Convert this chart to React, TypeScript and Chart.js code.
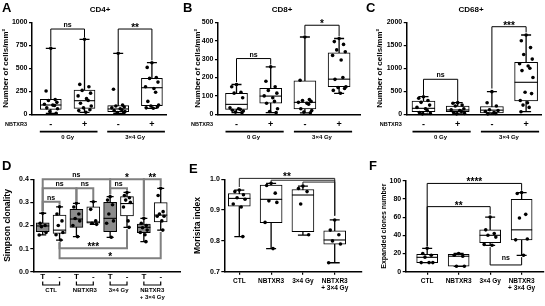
import React, { useEffect, useRef } from 'react';
import { Chart, registerables } from 'chart.js';
Chart.register(...registerables);

const FONT = '"Liberation Sans", Arial, Helvetica, sans-serif';

// ---------- shared labels ----------
const treatLabels = ['-', '+', '-', '+'];
const doseLabels = ['0 Gy', '3×4 Gy'];
const pairLabels = ['T', '-', 'T', '-', 'T', '-', 'T', '-'];
const conditionLabels = [['CTL'], ['NBTXR3'], ['3×4 Gy'], ['NBTXR3', '+ 3×4 Gy']];
const JITTER = [0, -0.7, 0.65, -0.35, 0.9, -0.95, 0.3, 0.55, -0.6, 1, -0.15, 0.8, -0.85, 0.2, -0.45, 0.45, -0.75];

// ---------- A: CD4+ ----------
const cd4Ticks = [0, 250, 500, 750, 1000];
const cd4Min = [11, 22, 11, 65];
const cd4Q1 = [54, 65, 29, 94];
const cd4Median = [101, 148, 58, 289];
const cd4Q3 = [163, 264, 94, 391];
const cd4Max = [717, 815, 663, 561];
const cd4Points = [
  [717, 253, 160, 150, 130, 110, 100, 95, 70, 60, 30, 11],
  [815, 325, 300, 260, 230, 200, 170, 150, 120, 90, 70, 50, 40, 22],
  [663, 272, 100, 90, 80, 70, 60, 50, 40, 30, 20, 11],
  [561, 510, 400, 390, 350, 300, 280, 240, 140, 100, 90, 80, 70, 65],
];
const cd4Sig = [
  { a: 0, b: 1, y: 927, ya: 740, yb: 835, text: 'ns' },
  { a: 2, b: 3, y: 927, ya: 685, yb: 585, text: '**' },
];

// ---------- B: CD8+ ----------
const cd8Ticks = [0, 100, 200, 300, 400, 500];
const cd8Min = [9, 9, 8, 114];
const cd8Q1 = [27, 60, 29, 150];
const cd8Median = [54, 99, 65, 191];
const cd8Q3 = [114, 141, 182, 334];
const cd8Max = [162, 258, 420, 412];
const cd8Points = [
  [162, 150, 120, 115, 90, 35, 30, 27, 22, 18, 12, 9],
  [258, 180, 150, 130, 115, 100, 90, 70, 60, 30, 15, 9],
  [420, 185, 80, 75, 70, 65, 60, 55, 30, 20, 12, 8],
  [412, 395, 380, 350, 340, 320, 295, 200, 190, 150, 145, 140, 130, 114],
];
const cd8Sig = [
  { a: 0, b: 1, y: 303, ya: 175, yb: 270, text: 'ns' },
  { a: 2, b: 3, y: 484, ya: 432, yb: 424, text: '*' },
];

// ---------- C: CD68+ ----------
const cd68Ticks = [0, 500, 1000, 1500, 2000];
const cd68Min = [10, 10, 10, 57];
const cd68Q1 = [57, 57, 30, 290];
const cd68Median = [130, 94, 90, 696];
const cd68Q3 = [290, 180, 170, 1130];
const cd68Max = [383, 253, 492, 1724];
const cd68Points = [
  [383, 350, 300, 260, 200, 150, 120, 80, 40, 20, 10],
  [253, 240, 200, 180, 120, 100, 80, 60, 40, 20, 10],
  [492, 250, 180, 100, 80, 60, 40, 20, 10],
  [1724, 1600, 1450, 1300, 1200, 1100, 1050, 1000, 950, 800, 480, 450, 300, 250, 200, 150, 57],
];
const cd68Sig = [
  { a: 0, b: 1, y: 761, ya: 420, yb: 290, text: 'ns' },
  { a: 2, b: 3, y: 1904, ya: 560, yb: 1780, text: '***' },
];

// ---------- D: Simpson clonality ----------
const simpsonTicks = [0, 0.1, 0.2, 0.3, 0.4];
const simpsonMin = [0.159, 0.137, 0.152, 0.205, 0.149, 0.192, 0.13, 0.18];
const simpsonQ1 = [0.173, 0.166, 0.192, 0.21, 0.173, 0.241, 0.169, 0.216];
const simpsonMedian = [0.198, 0.18, 0.228, 0.215, 0.231, 0.295, 0.192, 0.245];
const simpsonQ3 = [0.212, 0.245, 0.27, 0.281, 0.3, 0.325, 0.206, 0.299];
const simpsonMax = [0.253, 0.281, 0.296, 0.303, 0.325, 0.343, 0.231, 0.361];
const simpsonPoints = [
  [0.253, 0.21, 0.2, 0.195, 0.17, 0.159],
  [0.281, 0.25, 0.22, 0.2, 0.17, 0.16, 0.137],
  [0.296, 0.28, 0.25, 0.23, 0.22, 0.2, 0.152],
  [0.303, 0.27, 0.22, 0.21, 0.205],
  [0.325, 0.31, 0.29, 0.25, 0.22, 0.21, 0.149],
  [0.343, 0.33, 0.32, 0.31, 0.3, 0.28, 0.22, 0.192],
  [0.231, 0.21, 0.2, 0.19, 0.18, 0.17, 0.16, 0.13],
  [0.361, 0.33, 0.26, 0.25, 0.24, 0.24, 0.22, 0.18],
];
const simpsonSig = [
  { a: 0, b: 4, y: 0.4, ya: 0.262, yb: 0.335, text: 'ns' },
  { a: 4, b: 6, y: 0.4, ya: 0.335, yb: 0.24, text: '*' },
  { a: 6, b: 7, y: 0.4, ya: 0.24, yb: 0.37, text: '**' },
  { a: 0, b: 2, y: 0.361, ya: 0.262, yb: 0.302, text: 'ns' },
  { a: 2, b: 3, y: 0.361, ya: 0.302, yb: 0.31, text: 'ns' },
  { a: 4, b: 5, y: 0.361, ya: 0.335, yb: 0.35, text: 'ns' },
  { a: 0, b: 1, y: 0.303, ya: 0.262, yb: 0.29, text: 'ns' },
  { a: 1, b: 5, y: 0.101, ya: 0.128, yb: 0.184, text: '***' },
  { a: 1, b: 7, y: 0.058, ya: 0.128, yb: 0.172, text: '*' },
];

// ---------- E: Morisita index ----------
const morisitaTicks = [0.7, 0.8, 0.9, 1.0];
const morisitaMin = [0.814, 0.775, 0.819, 0.729];
const morisitaQ1 = [0.913, 0.859, 0.83, 0.789];
const morisitaMedian = [0.938, 0.935, 0.949, 0.803];
const morisitaQ3 = [0.954, 0.981, 0.967, 0.833];
const morisitaMax = [0.965, 0.987, 0.978, 0.868];
const morisitaPoints = [
  [0.965, 0.96, 0.95, 0.94, 0.935, 0.92, 0.91, 0.814],
  [0.987, 0.98, 0.955, 0.93, 0.925, 0.86, 0.775],
  [0.978, 0.97, 0.96, 0.92, 0.82],
  [0.868, 0.835, 0.82, 0.8, 0.79, 0.729],
];
const morisitaSig = [
  { a: 0, b: 3, y: 1.003, ya: 0.975, yb: 0.882, text: '**' },
  { a: 1, b: 3, y: 0.997, ya: 0.99, yb: 0.882, text: '' },
  { a: 2, b: 3, y: 0.991, ya: 0.982, yb: 0.882, text: '' },
];

// ---------- F: Expanded clones number ----------
const clonesTicks = [0, 20, 40, 60, 80, 100];
const clonesMin = [10, 6, 29, 18];
const clonesQ1 = [10, 6, 32, 35];
const clonesMedian = [15.8, 17, 40, 46];
const clonesQ3 = [19, 19, 46, 79.5];
const clonesMax = [25.7, 20, 60, 87];
const clonesPoints = [
  [25.7, 20, 18, 16, 10, 10, 10],
  [20, 18, 17, 6, 6],
  [60, 46, 42, 40, 38, 30, 29],
  [87, 86, 63, 59, 36, 35, 18],
];
const clonesSig = [
  { a: 0, b: 3, y: 97, ya: 28, yb: 89, text: '****' },
  { a: 0, b: 2, y: 71.5, ya: 28, yb: 63, text: '**' },
  { a: 2, b: 3, y: 7.4, ya: 27, yb: 16, text: 'ns' },
];

type Sig = { a: number; b: number; y: number; ya: number; yb: number; text: string };
type Panel = any;

const WHITE4 = ['#fff', '#fff', '#fff', '#fff'];
const PAIRFILL = ['#8c8c8c', '#fff', '#8c8c8c', '#fff', '#8c8c8c', '#fff', '#8c8c8c', '#fff'];
const fmt0 = (v: number) => String(v);
const fmt1 = (v: number) => v.toFixed(1);

const panels: Panel[] = [
  {
    left: 0, top: 0, w: 182, h: 150, area: { l: 32, r: 166, t: 22.3, b: 114.3 }, xMin: -0.558, xMax: 3.418,
    yMin: 0, yMax: 1000, yTicks: cd4Ticks, yFmt: fmt0, xLabels: treatLabels, xFont: 9, xPad: 5.5, xH: 20, xTicks: false,
    boxW: 21, capW: 10, jitter: 0.2, box: { min: cd4Min, q1: cd4Q1, med: cd4Median, q3: cd4Q3, max: cd4Max },
    points: cd4Points, fills: WHITE4, sig: cd4Sig, sigColor: '#000', sigW: 1,
    letter: 'A', letterX: 2, letterY: 2, title: 'CD4+', titleX: 100, yTitle: 'Number of cells/mm²', yTitleX: 5.5, yTitleSize: 8,
    dose: true,
  },
  {
    left: 182, top: 0, w: 182, h: 150, area: { l: 36, r: 178, t: 22.3, b: 114.3 }, xMin: -0.541, xMax: 3.611,
    yMin: 0, yMax: 500, yTicks: cd8Ticks, yFmt: fmt0, xLabels: treatLabels, xFont: 9, xPad: 5.5, xH: 20, xTicks: false,
    boxW: 22, capW: 10, jitter: 0.2, box: { min: cd8Min, q1: cd8Q1, med: cd8Median, q3: cd8Q3, max: cd8Max },
    points: cd8Points, fills: WHITE4, sig: cd8Sig, sigColor: '#000', sigW: 1,
    letter: 'B', letterX: 1, letterY: 2, title: 'CD8+', titleX: 100, yTitle: 'Number of cells/mm²', yTitleX: 15.5, yTitleSize: 8,
    dose: true,
  },
  {
    left: 364, top: 0, w: 181, h: 150, area: { l: 42.7, r: 177.7, t: 22.3, b: 114.3 }, xMin: -0.491, xMax: 3.456,
    yMin: 0, yMax: 2000, yTicks: cd68Ticks, yFmt: fmt0, xLabels: treatLabels, xFont: 9, xPad: 5.5, xH: 20, xTicks: false,
    boxW: 23, capW: 10, jitter: 0.2, box: { min: cd68Min, q1: cd68Q1, med: cd68Median, q3: cd68Q3, max: cd68Max },
    points: cd68Points, fills: WHITE4, sig: cd68Sig, sigColor: '#000', sigW: 1,
    letter: 'C', letterX: 2, letterY: 2, title: 'CD68+', titleX: 107, yTitle: 'Number of cells/mm²', yTitleX: 15.5, yTitleSize: 8,
    dose: true,
  },
  {
    left: 0, top: 150, w: 182, h: 156, area: { l: 33.3, r: 180, t: 29.3, b: 121.7 }, xMin: -0.558, xMax: 8.144,
    yMin: 0, yMax: 0.4, yTicks: simpsonTicks, yFmt: fmt1, xLabels: pairLabels, xFont: 8, xPad: 0.5, xH: 24, xTicks: false,
    boxW: 13, capW: 7, jitter: 0.22, box: { min: simpsonMin, q1: simpsonQ1, med: simpsonMedian, q3: simpsonQ3, max: simpsonMax },
    points: simpsonPoints, fills: PAIRFILL, sig: simpsonSig, sigColor: '#808080', sigW: 2,
    letter: 'D', letterX: 2, letterY: 10, yTitle: 'Simpson clonality', yTitleX: 7.5, yTitleSize: 8.5,
    pairs: true,
  },
  {
    left: 182, top: 150, w: 182, h: 156, area: { l: 42.3, r: 180, t: 29.3, b: 121.7 }, xMin: -0.472, xMax: 3.858,
    yMin: 0.7, yMax: 1.0, yTicks: morisitaTicks, yFmt: fmt1, xLabels: conditionLabels, xFont: 6.5, xPad: 2.5, xH: 24, xTicks: true,
    boxW: 22, capW: 10, jitter: 0.2, box: { min: morisitaMin, q1: morisitaQ1, med: morisitaMedian, q3: morisitaQ3, max: morisitaMax },
    points: morisitaPoints, fills: WHITE4, sig: morisitaSig, sigColor: '#222', sigW: 1,
    letter: 'E', letterX: 7, letterY: 13, yTitle: 'Morisita index', yTitleX: 15.5, yTitleSize: 8.5,
  },
  {
    left: 364, top: 150, w: 181, h: 156, area: { l: 41.7, r: 180, t: 30.7, b: 121.7 }, xMin: -0.682, xMax: 3.685,
    yMin: 0, yMax: 100, yTicks: clonesTicks, yFmt: fmt0, xLabels: conditionLabels, xFont: 6.5, xPad: 2.5, xH: 24, xTicks: true,
    boxW: 21, capW: 10, jitter: 0.2, box: { min: clonesMin, q1: clonesQ1, med: clonesMedian, q3: clonesQ3, max: clonesMax },
    points: clonesPoints, fills: WHITE4, sig: clonesSig, sigColor: '#000', sigW: 1,
    letter: 'F', letterX: 5, letterY: 10, yTitle: 'Expanded clones number', yTitleX: 20.5, yTitleSize: 7,
  },
];

const bold = (s: number) => `bold ${s}px ${FONT}`;

function extras(p: Panel) {
  return {
    id: 'boxExtras',
    beforeDatasetsDraw(chart: any) {
      const { ctx } = chart;
      const x = chart.scales.x, y = chart.scales.y;
      ctx.save();
      ctx.strokeStyle = '#000';
      ctx.lineWidth = 1.3;
      p.box.min.forEach((mn: number, i: number) => {
        const px = x.getPixelForValue(i);
        const y0 = y.getPixelForValue(mn);
        const y1 = y.getPixelForValue(p.box.max[i]);
        const cw = p.capW / 2;
        ctx.beginPath();
        ctx.moveTo(px, y0); ctx.lineTo(px, y1);
        ctx.moveTo(px - cw, y0); ctx.lineTo(px + cw, y0);
        ctx.moveTo(px - cw, y1); ctx.lineTo(px + cw, y1);
        ctx.stroke();
      });
      ctx.restore();
    },
    afterDatasetDraw(chart: any, args: any) {
      if (args.index !== 1) return;
      const { ctx } = chart;
      const x = chart.scales.x, y = chart.scales.y;
      ctx.save();
      ctx.strokeStyle = '#000';
      ctx.lineWidth = 1.1;
      p.box.med.forEach((m: number, i: number) => {
        const px = x.getPixelForValue(i);
        const py = y.getPixelForValue(m);
        ctx.beginPath();
        ctx.moveTo(px - p.boxW / 2, py); ctx.lineTo(px + p.boxW / 2, py);
        ctx.stroke();
      });
      ctx.restore();
    },
    afterDraw(chart: any) {
      const { ctx, chartArea } = chart;
      const x = chart.scales.x, y = chart.scales.y;
      ctx.save();
      // significance brackets
      ctx.strokeStyle = p.sigColor;
      ctx.lineWidth = p.sigW;
      ctx.fillStyle = '#000';
      p.sig.forEach((s: Sig) => {
        const xa = x.getPixelForValue(s.a), xb = x.getPixelForValue(s.b);
        const yl = y.getPixelForValue(s.y), ya = y.getPixelForValue(s.ya), yb = y.getPixelForValue(s.yb);
        ctx.beginPath();
        ctx.moveTo(xa, ya); ctx.lineTo(xa, yl); ctx.lineTo(xb, yl); ctx.lineTo(xb, yb);
        ctx.stroke();
        if (s.text) {
          const star = s.text.includes('*');
          const inverted = s.ya > s.y;
          ctx.font = star ? bold(10) : bold(7);
          ctx.textAlign = 'center';
          ctx.textBaseline = 'alphabetic';
          ctx.fillText(s.text, (xa + xb) / 2, yl + (star ? 2 : inverted ? -4.5 : -2));
        }
      });
      // panel letter
      ctx.fillStyle = '#000';
      ctx.font = bold(13);
      ctx.textAlign = 'left';
      ctx.textBaseline = 'top';
      ctx.fillText(p.letter, p.letterX, p.letterY);
      // title
      if (p.title) {
        ctx.font = bold(8);
        ctx.textAlign = 'center';
        ctx.textBaseline = 'middle';
        ctx.fillText(p.title, p.titleX, 10);
      }
      // y title
      ctx.save();
      ctx.translate(p.yTitleX, (chartArea.top + chartArea.bottom) / 2);
      ctx.rotate(-Math.PI / 2);
      ctx.font = bold(p.yTitleSize);
      ctx.textAlign = 'center';
      ctx.textBaseline = 'middle';
      ctx.fillText(p.yTitle, 0, 0);
      ctx.restore();
      // dose groups (A-C)
      if (p.dose) {
        ctx.font = bold(5.5);
        ctx.textAlign = 'right';
        ctx.textBaseline = 'middle';
        ctx.fillText('NBTXR3', chartArea.left - 5, 124);
        ctx.strokeStyle = '#000';
        ctx.lineWidth = 1.8;
        ctx.font = bold(6);
        ctx.textAlign = 'center';
        doseLabels.forEach((lab, g) => {
          const x0 = x.getPixelForValue(g * 2) - 11;
          const x1 = x.getPixelForValue(g * 2 + 1) + 13;
          ctx.beginPath();
          ctx.moveTo(x0, 131.7); ctx.lineTo(x1, 131.7);
          ctx.stroke();
          ctx.fillText(lab, (x.getPixelForValue(g * 2) + x.getPixelForValue(g * 2 + 1)) / 2, 137.8);
        });
      }
      // pair groups (D)
      if (p.pairs) {
        ctx.strokeStyle = '#000';
        ctx.lineWidth = 1.2;
        ctx.font = bold(6);
        ctx.textAlign = 'center';
        ctx.textBaseline = 'middle';
        conditionLabels.forEach((lines, g) => {
          const x0 = x.getPixelForValue(g * 2);
          const x1 = x.getPixelForValue(g * 2 + 1);
          ctx.beginPath();
          ctx.moveTo(x0, 131.5); ctx.lineTo(x0, 135); ctx.lineTo(x1, 135); ctx.lineTo(x1, 131.5);
          ctx.stroke();
          lines.forEach((ln, k) => ctx.fillText(ln, (x0 + x1) / 2, 140.5 + k * 6.6));
        });
      }
      ctx.restore();
    },
  };
}

function buildConfig(p: Panel): any {
  const pts: { x: number; y: number }[] = [];
  p.points.forEach((arr: number[], i: number) =>
    arr.forEach((v, k) => pts.push({ x: i + JITTER[k % JITTER.length] * p.jitter, y: v }))
  );
  const boxes = p.box.q1.map((q: number, i: number) => ({ x: i, y: [q, p.box.q3[i]] }));
  const tickFont = { family: FONT, size: 7, weight: 'bold' as const };
  return {
    type: 'bar',
    data: {
      datasets: [
        {
          type: 'scatter', data: pts, pointRadius: 1.8, pointBackgroundColor: '#000', pointBorderWidth: 0,
          pointHoverRadius: 1.8, clip: false,
        },
        {
          type: 'bar', data: boxes, backgroundColor: p.fills, borderColor: '#000', borderWidth: 1,
          borderSkipped: false, barThickness: p.boxW, clip: false,
        },
      ],
    },
    options: {
      animation: false,
      responsive: false,
      maintainAspectRatio: false,
      devicePixelRatio: 1,
      events: [],
      layout: { padding: { left: 0, top: p.area.t, right: p.w - p.area.r, bottom: p.h - p.area.b - p.xH } },
      plugins: { legend: { display: false }, tooltip: { enabled: false }, title: { display: false } },
      scales: {
        x: {
          type: 'linear', min: p.xMin, max: p.xMax, offset: false,
          grid: p.xTicks
            ? { display: true, drawOnChartArea: false, drawTicks: true, tickLength: 3, color: '#000', lineWidth: 1.2, offset: false }
            : { display: false, drawTicks: false },
          border: { display: true, color: '#000', width: 1.5 },
          afterBuildTicks: (s: any) => { s.ticks = p.xLabels.map((_: any, i: number) => ({ value: i })); },
          afterFit: (s: any) => { s.height = p.xH; },
          ticks: {
            autoSkip: false, maxRotation: 0, minRotation: 0, padding: p.xPad, color: '#000',
            font: { family: FONT, size: p.xFont, weight: 'bold', lineHeight: 1.15 },
            callback: (v: number) => p.xLabels[Math.round(v)],
          },
        },
        y: {
          type: 'linear', min: p.yMin, max: p.yMax,
          grid: { display: true, drawOnChartArea: false, drawTicks: true, tickLength: 3, color: '#000', lineWidth: 1.2 },
          border: { display: true, color: '#000', width: 1.5 },
          afterBuildTicks: (s: any) => { s.ticks = p.yTicks.map((v: number) => ({ value: v })); },
          afterFit: (s: any) => { s.width = p.area.l; },
          ticks: { padding: 1.5, color: '#000', font: tickFont, callback: (v: number) => p.yFmt(v) },
        },
      },
    },
    plugins: [extras(p)],
  };
}

function PanelChart({ p }: { p: Panel }) {
  const ref = useRef<HTMLCanvasElement>(null);
  useEffect(() => {
    const chart = new Chart(ref.current as HTMLCanvasElement, buildConfig(p));
    return () => chart.destroy();
  }, []);
  return (
    <canvas
      ref={ref}
      width={p.w}
      height={p.h}
      style={{ position: 'absolute', left: p.left, top: p.top, width: p.w, height: p.h }}
    />
  );
}

export default function App() {
  return (
    <div style={{ position: 'fixed', left: 0, top: 0, width: 545, height: 306, background: '#fff', overflow: 'hidden' }}>
      {panels.map((p, i) => (
        <PanelChart key={i} p={p} />
      ))}
    </div>
  );
}
